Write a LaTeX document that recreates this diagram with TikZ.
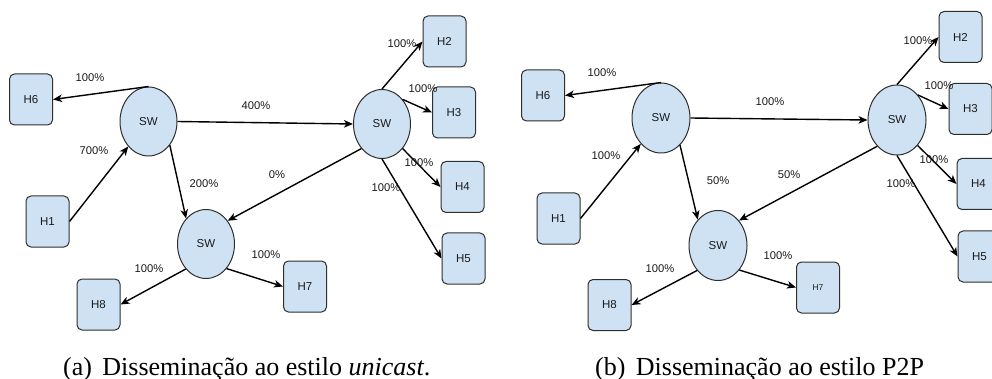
\documentclass[tikz,border=0pt]{standalone}
\usepackage{fontspec}
\setmainfont{Liberation Serif}
\newfontfamily\labelfont{Liberation Sans}
\usetikzlibrary{shapes.geometric,arrows.meta}
\definecolor{nodefill}{HTML}{CFE2F3}
\definecolor{nodeline}{HTML}{2E2E2E}
\definecolor{txt}{HTML}{1A1A1A}
\begin{document}
\begin{tikzpicture}[x=1pt,y=-1pt,
  host/.style={draw=nodeline,fill=nodefill,rounded corners=5pt,minimum width=43pt,minimum height=51pt,inner sep=0pt,line width=1pt,font=\labelfont\fontsize{11.5}{13}\selectfont,text=txt},
  switch/.style={draw=nodeline,fill=nodefill,ellipse,minimum width=57pt,minimum height=69pt,inner sep=0pt,line width=1pt,font=\labelfont\fontsize{11.5}{13}\selectfont,text=txt},
  lbl/.style={font=\labelfont\fontsize{11.2}{13}\selectfont,text=txt,inner sep=0pt},
  link/.style={-{Stealth[length=9pt,width=7.5pt,inset=2.5pt]},line width=1.4pt,draw=black},
  captext/.style={font=\fontsize{26}{30}\selectfont,anchor=base west,inner sep=0pt}]
\useasboundingbox (0,0) rectangle (992,379);

% ---------- left panel ----------
\node[switch] (as1) at (148.5,121.5) {SW};
\node[switch] (as2) at (382,124) {SW};
\node[switch] (as3) at (206,244) {SW};
\node[host] (ah6) at (31,99.5) {H6};
\node[host] (ah1) at (47.5,221.5) {H1};
\node[host] (ah2) at (444.5,41.5) {H2};
\node[host] (ah3) at (454,112.5) {H3};
\node[host] (ah4) at (462.5,187) {H4};
\node[host] (ah5) at (463.5,258.5) {H5};
\node[host] (ah7) at (305,286.5) {H7};
\node[host] (ah8) at (98.5,304.5) {H8};

\draw[link] (as1.north) -- (ah6.east);
\draw[link] (ah1.east) -- (as1.231);
\draw[link] (as1.east) -- (as2.west);
\draw[link] (as1.312) -- (as3.128);
\draw[link] (as2.230) -- (as3.47);
\draw[link] (as2.north) -- (ah2.west);
\draw[link] (as2.50) -- (ah3.west);
\draw[link] (as2.310) -- (ah4.west);
\draw[link] (as2.south) -- (ah5.west);
\draw[link] (as3.310) -- (ah7.west);
\draw[link] (as3.231) -- (ah8.east);

\node[lbl] (al1) at (90,78) {100\%};
\node[lbl] (al2) at (256,106) {400\%};
\node[lbl] (al3) at (94,151) {700\%};
\node[lbl] (al4) at (204,184) {200\%};
\node[lbl] (al5) at (277,175) {0\%};
\node[lbl] (al6) at (402,44) {100\%};
\node[lbl] (al7) at (423,89) {100\%};
\node[lbl] (al8) at (419,163) {100\%};
\node[lbl] (al9) at (386,188) {100\%};
\node[lbl] (al10) at (266,255) {100\%};
\node[lbl] (al11) at (149,269) {100\%};

% ---------- right panel ----------
\node[switch,minimum width=58pt,minimum height=70pt] (bs1) at (661,118) {SW};
\node[switch,minimum width=58pt,minimum height=70pt] (bs2) at (897,120) {SW};
\node[switch,minimum width=58pt,minimum height=70pt] (bs3) at (718,245.5) {SW};
\node[host] (bh6) at (543,95.5) {H6};
\node[host] (bh1) at (558.5,218.5) {H1};
\node[host] (bh2) at (960.5,37) {H2};
\node[host] (bh3) at (970.5,109) {H3};
\node[host] (bh4) at (978.5,184) {H4};
\node[host] (bh5) at (979.5,256.5) {H5};
\node[host,font=\labelfont\fontsize{8.5}{10}\selectfont] (bh7) at (818,287.5) {H7};
\node[host] (bh8) at (609.5,305) {H8};

\draw[link] (bs1.north) -- (bh6.east);
\draw[link] (bh1.east) -- (bs1.232);
\draw[link] (bs1.east) -- (bs2.west);
\draw[link] (bs1.305) -- (bs3.128);
\draw[link] (bs2.233) -- (bs3.50);
\draw[link] (bs2.north) -- (bh2.west);
\draw[link] (bs2.50) -- (bh3.west);
\draw[link] (bs2.309) -- (bh4.west);
\draw[link] (bs2.south) -- (bh5.west);
\draw[link] (bs3.311) -- (bh7.west);
\draw[link] (bs3.230) -- (bh8.east);

\node[lbl] (bl1) at (602,73) {100\%};
\node[lbl] (bl2) at (770,102) {100\%};
\node[lbl] (bl3) at (606,156) {100\%};
\node[lbl] (bl4) at (718,181) {50\%};
\node[lbl] (bl5) at (789,175) {50\%};
\node[lbl] (bl6) at (918,41) {100\%};
\node[lbl] (bl7) at (939,86) {100\%};
\node[lbl] (bl8) at (934,160) {100\%};
\node[lbl] (bl9) at (901,184) {100\%};
\node[lbl] (bl10) at (778,256) {100\%};
\node[lbl] (bl11) at (660,269) {100\%};

% ---------- captions ----------
\node[captext] (capa) at (63,375) {(a)\hspace{0.4em}Dissemina\c{c}\~ao ao estilo \textit{unicast}.};
\node[captext] (capb) at (595,375) {(b)\hspace{0.4em}Dissemina\c{c}\~ao ao estilo P2P};
\end{tikzpicture}
\end{document}
